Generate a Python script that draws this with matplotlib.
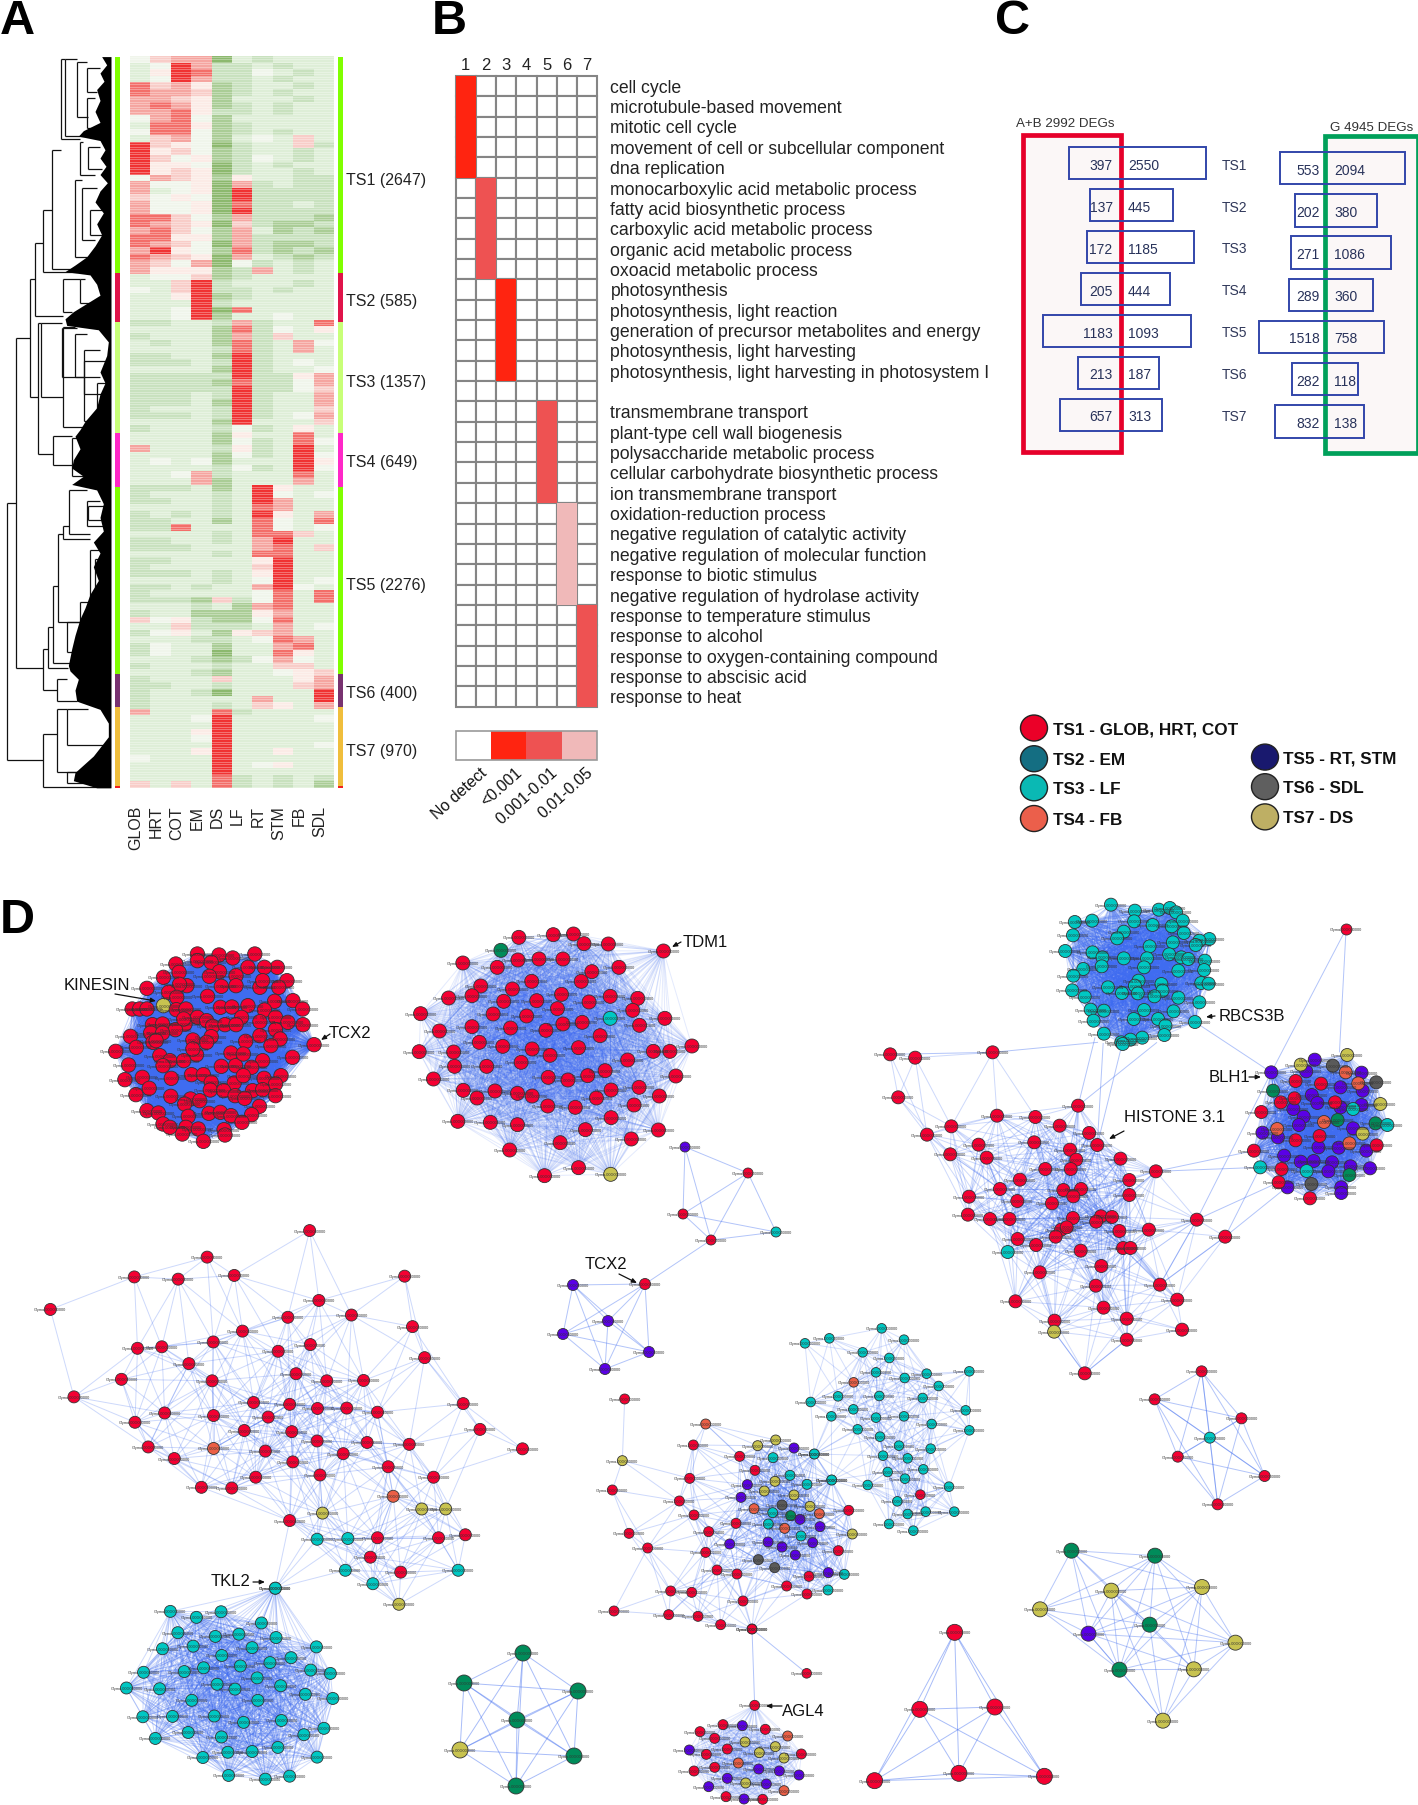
"""Multi panel soybean tissue specific expression figure (heatmap, GO grid, DEG bars, networks)."""
from itertools import combinations

import matplotlib.pyplot as plt
from matplotlib.collections import LineCollection
from matplotlib.colors import ListedColormap
from matplotlib.patches import Ellipse, Rectangle

plt.rcParams["font.family"] = ["Liberation Sans", "DejaVu Sans"]

WIDTH, HEIGHT = 1418, 1806

# panel A
TISSUES = ["GLOB", "HRT", "COT", "EM", "DS", "LF", "RT", "STM", "FB", "SDL"]
CLUSTER_LABELS = ["TS1 (2647)", "TS2 (585)", "TS3 (1357)", "TS4 (649)", "TS5 (2276)", "TS6 (400)", "TS7 (970)"]
CLUSTER_EDGES = [105, 500, 588, 792, 890, 1230, 1290, 1435, 1438]
CLUSTER_BAR_COLORS = ["#80ff00", "#e0144a", "#c8ff78", "#ff28c8", "#80ff00", "#783270", "#f0be3c", "#f02020"]
CLUSTER_LABEL_Y = [328, 547, 696, 841, 1066, 1263, 1369]
HEAT_COLORS = ["#8cb96e", "#aacd96", "#c8e1be", "#deeed7", "#f0f5eb", "#fbebe6", "#f8cdc8", "#f5a5a0", "#f36e69", "#f03232"]

# one string per band, one digit per tissue: 0 green .. 4 white .. 9 red
HEAT_TS1 = [
    "4677032333", "3497223233", "3598224323", "3497223233", "8675123323", "8776123233", "7765133323",
    "7875123233", "7785223233", "4784133333", "3885123333", "4884123233", "3674134363", "9654023362",
    "9564123323", "9645124323", "9554023233", "9565023323", "4765153322", "7445072322", "7345092222",
    "6454092222", "7445082232", "7445092222", "8864172221", "8765062112", "7864173121", "8855172222",
    "8764072112", "7954182121", "8765073212", "7647042323", "7555127323",
]
HEAT_TS2 = ["3446123333", "3369233323", "4369223233", "3359123333", "3339233333", "3349083333", "3349133433"]
HEAT_TS3 = [
    "2233272338", "3333182435", "2333172633", "3233182374", "3333282373", "2233192333", "2223292343",
    "3333192334", "2222292257", "2222182247", "2222292246", "2223292337", "2223192337", "2333292336",
    "2223292347", "3333193336", "2333242353",
]
HEAT_TS4 = ["3333153383", "3333142384", "7333252393", "3333142394", "3434133395", "3333242394", "3347233383", "3337133373"]
HEAT_TS5 = [
    "2223139533", "2333239434", "2233239733", "3333238733", "2323239537", "2233138438", "2283338434",
    "3333238863", "2233237933", "2223337836", "3333238833", "2233335933", "2333336933", "2223235933",
    "3333234934", "2232337943", "2333334838", "2221624838", "3332317833", "2331115733", "6452114833",
    "3362223734", "2453156733", "3332234873", "2433133783", "2433033853", "3332124743", "2333233663",
    "3332133456",
]
HEAT_TS6 = ["2333633357", "2233233367", "2332033339", "2333337339", "2333236537"]
HEAT_TS7 = [
    "7333823333", "3334933334", "3333933333", "3335933333", "3334933333", "3333933334",
    "3335933533", "4333933333", "3333934533", "3333933333", "3333823232", "6363823231",
]

# dendrogram brackets: x of the stem, top y, bottom y, x the top arm runs to, x the bottom arm runs to
DENDRO_BRACKETS = [
    (20, 918, 1388, 47, 130), (47, 618, 1220, 90, 130), (130, 1340, 1437, 170, 330), (170, 1295, 1410, 200, 260),
    (200, 1295, 1360, 265, 325), (200, 1410, 1430, 240, 325), (90, 510, 725, 105, 115), (105, 445, 578, 130, 190),
    (130, 385, 497, 155, 230), (155, 275, 492, 183, 230), (183, 110, 255, 195, 240), (195, 110, 250, 232, 300),
    (232, 115, 215, 262, 265), (262, 125, 170, 300, 290), (240, 260, 320, 250, 285), (225, 330, 470, 245, 270),
    (245, 345, 440, 290, 285), (190, 510, 570, 240, 215), (240, 510, 555, 255, 290), (115, 590, 830, 122, 160),
    (122, 590, 725, 185, 190), (185, 600, 690, 232, 252), (190, 598, 780, 225, 255), (252, 640, 770, 300, 290),
    (225, 610, 690, 260, 300), (160, 797, 850, 215, 215), (215, 800, 870, 240, 280), (130, 1185, 1260, 145, 170),
    (145, 1145, 1220, 158, 205), (158, 1070, 1210, 175, 210), (175, 975, 1135, 190, 240), (190, 960, 985, 208, 270),
    (208, 895, 975, 260, 270), (260, 915, 960, 300, 310), (240, 1100, 1165, 270, 235), (270, 1005, 1095, 300, 285),
    (170, 1240, 1280, 200, 230), (262, 180, 235, 285, 300), (265, 270, 310, 300, 305), (270, 385, 430, 305, 310),
    (252, 660, 720, 320, 305), (290, 700, 760, 320, 310), (265, 925, 950, 320, 310), (285, 1020, 1085, 320, 300),
    (200, 1135, 1190, 260, 255),
]
DENDRO_MASS = [
    (105, 305), (120, 320), (135, 300), (150, 312), (165, 290), (185, 300), (205, 285), (225, 300), (240, 250),
    (250, 235), (258, 300), (275, 315), (290, 300), (305, 318), (320, 300), (335, 322), (350, 300), (370, 285),
    (390, 310), (410, 290), (430, 305), (450, 285), (470, 260), (485, 225), (497, 195), (503, 270), (520, 290),
    (540, 300), (555, 260), (570, 220), (583, 195), (595, 200), (603, 295), (625, 325), (650, 320), (680, 300),
    (700, 315), (720, 300), (745, 290), (770, 255), (785, 240), (797, 225), (820, 240), (840, 220), (855, 215),
    (870, 250), (885, 215), (895, 290), (920, 310), (945, 300), (970, 310), (990, 280), (1010, 300), (1035, 280),
    (1060, 295), (1085, 270), (1110, 255), (1130, 240), (1160, 225), (1185, 215), (1215, 205), (1225, 210),
    (1240, 235), (1260, 225), (1280, 230), (1295, 300), (1320, 325), (1345, 325), (1380, 280), (1410, 225),
    (1425, 220), (1438, 290),
]

# panel B
GO_TERMS = [
    "cell cycle", "microtubule-based movement", "mitotic cell cycle", "movement of cell or subcellular component",
    "dna replication", "monocarboxylic acid metabolic process", "fatty acid biosynthetic process",
    "carboxylic acid metabolic process", "organic acid metabolic process", "oxoacid metabolic process",
    "photosynthesis", "photosynthesis, light reaction", "generation of precursor metabolites and energy",
    "photosynthesis, light harvesting", "photosynthesis, light harvesting in photosystem I", "",
    "transmembrane transport", "plant-type cell wall biogenesis", "polysaccharide metabolic process",
    "cellular carbohydrate biosynthetic process", "ion transmembrane transport", "oxidation-reduction process",
    "negative regulation of catalytic activity", "negative regulation of molecular function",
    "response to biotic stimulus", "negative regulation of hydrolase activity", "response to temperature stimulus",
    "response to alcohol", "response to oxygen-containing compound", "response to abscisic acid", "response to heat",
]
# (first row, column, p-value class) for five consecutive rows each
GO_BLOCKS = [(0, 0, 1), (5, 1, 2), (10, 2, 1), (16, 4, 2), (21, 5, 3), (26, 6, 2)]
P_LABELS = ["No detect", "<0.001", "0.001-0.01", "0.01-0.05"]
P_COLORS = ["#ffffff", "#ff2410", "#ee5252", "#f0b9b9"]

# panel C
TS_NAMES = ["TS1", "TS2", "TS3", "TS4", "TS5", "TS6", "TS7"]
AB_DOWN = [397, 137, 172, 205, 1183, 213, 657]
AB_UP = [2550, 445, 1185, 444, 1093, 187, 313]
G_DOWN = [553, 202, 271, 289, 1518, 282, 832]
G_UP = [2094, 380, 1086, 360, 758, 118, 138]
# drawn lengths of the boxes, the figure does not scale them linearly
AB_LEFT_LEN = [150, 87, 98, 114, 228, 125, 177]
AB_RIGHT_LEN = [261, 162, 225, 151, 214, 118, 129]
G_LEFT_LEN = [147, 104, 116, 120, 211, 111, 164]
G_RIGHT_LEN = [228, 144, 185, 132, 165, 87, 104]
LEGEND_LEFT = ["TS1 - GLOB, HRT, COT", "TS2 - EM", "TS3 - LF", "TS4 - FB"]
LEGEND_RIGHT = ["TS5 - RT, STM", "TS6 - SDL", "TS7 - DS"]
LEGEND_LEFT_COLORS = ["#eb0028", "#146e82", "#0ab9b4", "#eb5f4b"]
LEGEND_RIGHT_COLORS = ["#19196e", "#5f5f5f", "#beaf64"]

KINDS = {"r": "#f50032", "t": "#00c8c3", "g": "#008c5a", "p": "#5a00e6", "y": "#c8c350", "o": "#eb5f46", "k": "#5a5a5a"}

NET_KINESIN = [
    (430, 225), (477, 228), (507, 237), (555, 225), (430, 245), (460, 250), (383, 255), (604, 265), (576, 265),
    (540, 265), (478, 278), (456, 292), (390, 280), (356, 295), (514, 290), (625, 305), (407, 320), (391, 316),
    (320, 328), (482, 322), (514, 320), (566, 325), (572, 305), (607, 325), (367, 340), (452, 352), (385, 355),
    (638, 365), (598, 367), (659, 390), (540, 380), (288, 390), (304, 390), (320, 390), (356, 380, "y"), (384, 392),
    (405, 390), (480, 385), (505, 384), (576, 393), (600, 415), (526, 415), (430, 415), (627, 430), (566, 428),
    (450, 425), (403, 435), (660, 437), (332, 437), (354, 435), (463, 442), (490, 437), (514, 437), (382, 452),
    (600, 452), (566, 470), (328, 462), (354, 462), (284, 472), (460, 473), (420, 483), (610, 480), (590, 500),
    (333, 490), (450, 490), (684, 497), (297, 505), (535, 487), (252, 517), (503, 522), (428, 527), (348, 530),
    (637, 535), (370, 545), (400, 545), (572, 545), (280, 558), (355, 560), (482, 562), (513, 560), (548, 565),
    (530, 525), (310, 595), (417, 587), (443, 587), (612, 590), (272, 602), (373, 598), (575, 598), (460, 610),
    (510, 612), (600, 615), (325, 628), (458, 633), (487, 635), (512, 650), (550, 635), (572, 632), (296, 647),
    (372, 652), (600, 650), (533, 658), (415, 660), (402, 675), (435, 665), (565, 682), (320, 695), (345, 702),
    (455, 703), (480, 700), (410, 712), (503, 710), (548, 707), (527, 730), (355, 735), (405, 745), (432, 750),
    (488, 752), (397, 765), (490, 768), (443, 787), (370, 745), (340, 485), (420, 510), (400, 420), (530, 590),
]
NET_TDM = [
    (1130, 175), (1205, 167), (1249, 165), (1272, 194), (1325, 195), (1445, 216), (1091, 214, "g"), (1008, 252),
    (1128, 243), (1174, 240), (1226, 240), (1083, 265), (1289, 278), (1348, 265), (1158, 307), (1266, 307),
    (1047, 321), (1116, 330), (977, 357), (1028, 350), (1097, 367), (1169, 365), (1223, 346), (1283, 369),
    (1329, 352), (1389, 358), (916, 404), (1074, 405), (1147, 411), (1214, 389), (1378, 394), (1329, 418, "t"),
    (1448, 418), (1226, 435), (1268, 430), (1393, 439), (957, 456), (1028, 443), (1112, 447), (1189, 454),
    (1307, 470), (1044, 490), (1095, 502), (913, 518), (988, 519), (1159, 510), (1198, 529), (1260, 506),
    (1423, 517), (1459, 517), (1507, 501), (1367, 543), (990, 562), (1060, 562), (1135, 550), (944, 600),
    (1194, 595), (1237, 603), (1280, 590), (1318, 575), (1472, 591), (1009, 634), (1039, 657), (1078, 636),
    (1127, 643), (1159, 651), (1331, 633), (1392, 625), (1436, 651), (1299, 657), (1381, 678), (1193, 681),
    (1253, 685), (997, 727), (1068, 730), (1127, 737), (1331, 716), (1275, 752), (1434, 753), (1375, 780),
    (1220, 791), (1110, 813), (1186, 890), (1260, 866), (1330, 886, "y"),
]
NET_RBCS = [
    (735, 47), (637, 99), (684, 95), (632, 139), (611, 186), (800, 65), (798, 97), (865, 62), (895, 57), (912, 70),
    (930, 95), (848, 108), (900, 112), (933, 132), (770, 128), (752, 148), (1002, 150), (975, 155), (965, 168),
    (840, 172), (903, 160), (685, 190), (712, 205), (893, 196), (926, 205), (945, 210), (990, 215), (770, 208),
    (833, 208), (660, 240), (710, 232), (825, 235), (918, 245), (988, 243), (633, 260), (980, 282), (1000, 284),
    (810, 275), (800, 290), (727, 295), (872, 285), (875, 305), (630, 304), (664, 323), (765, 312), (808, 313),
    (853, 322), (918, 326), (975, 340), (680, 362), (716, 365), (825, 363), (905, 367), (688, 395), (797, 390),
    (863, 390), (963, 399), (883, 410), (716, 434), (880, 438), (820, 446), (788, 452), (763, 460), (767, 465),
]
NET_BLH = [
    (1170, 550), (1288, 512), (1265, 547), (1415, 551), (1358, 595), (1280, 618), (1295, 642), (1230, 660),
    (1358, 655), (1415, 648), (1258, 683), (1245, 708), (1392, 718), (1146, 731), (1188, 745), (1298, 775),
    (1353, 776), (1428, 785), (1205, 800), (1250, 818), (1285, 816), (1335, 820), (1385, 832), (1325, 847),
    (1438, 838), (1214, 895), (1360, 895), (1360, 912), (1418, 605), (1250, 527, "y"), (1376, 498, "y"),
    (1466, 645, "y"), (1418, 734, "y"), (1337, 530, "k"), (1455, 580, "k"), (1279, 885, "k"), (1372, 550, "o"),
    (1406, 583, "o"), (1313, 699, "o"), (1186, 720, "o"), (1382, 763, "o"), (1175, 605, "g"), (1350, 693, "g"),
    (1453, 703, "g"), (1382, 858, "g"), (1485, 708, "t"), (1392, 660, "t"), (1266, 846, "t"), (1140, 835, "t"),
    (1236, 576, "r"), (1305, 584, "r"), (1233, 628, "r"), (1196, 640, "r"), (1343, 640, "r"), (1143, 669, "r"),
    (1301, 741, "r"), (1236, 754, "r"), (1456, 769, "r"), (1123, 785, "r"), (1198, 840, "r"), (1190, 880, "r"),
    (1275, 928, "r"),
]
NET_HISTONE = [
    (136, 496), (204, 506), (414, 490), (158, 625), (302, 712), (236, 737), (299, 796), (376, 767), (398, 806),
    (426, 680), (530, 684), (596, 710), (646, 650), (676, 732), (698, 768), (527, 760), (624, 782), (641, 812),
    (761, 809), (557, 840), (626, 840), (857, 847), (488, 872), (785, 873), (434, 900), (606, 903), (654, 900),
    (633, 922), (785, 918), (350, 923), (481, 936), (575, 943), (347, 977), (407, 990), (460, 990), (632, 987),
    (708, 982), (738, 984), (695, 998), (968, 992), (838, 1022), (758, 1026), (600, 1022), (615, 1015), (585, 1043),
    (1045, 1043), (482, 1050), (532, 1068), (768, 1077), (788, 1077), (653, 1085), (455, 1089, "t"), (709, 1131),
    (542, 1150), (694, 1190), (868, 1187), (915, 1232), (476, 1237), (715, 1256), (778, 1289), (582, 1295),
    (928, 1322), (581, 1328, "y"), (778, 1352), (664, 1453),
]
NET_REDS = [
    (867, 31), (580, 102), (376, 155), (499, 161), (656, 151), (1133, 153), (141, 242), (893, 218), (806, 263),
    (984, 257), (1155, 288), (679, 300), (597, 329), (385, 346), (453, 342), (529, 387), (779, 354), (869, 336),
    (1189, 371), (829, 414), (340, 429), (594, 433), (915, 433), (1018, 432), (207, 476), (461, 519), (598, 526),
    (710, 491), (811, 496), (889, 507), (971, 506), (1057, 517), (1297, 494), (751, 530), (378, 544), (684, 566),
    (817, 569), (1344, 563), (415, 610), (598, 614, "o"), (743, 621), (888, 594), (1028, 598), (1146, 603),
    (1463, 615), (488, 641), (961, 628), (820, 650), (1087, 663), (716, 691), (896, 685), (1214, 691), (564, 718),
    (649, 720), (1101, 742, "o"), (1181, 776, "y"), (1248, 776, "y"), (903, 787, "y"), (811, 807), (888, 857, "t"),
    (974, 855, "t"), (1057, 853), (1228, 853), (1303, 845), (1037, 905), (967, 940, "t"), (1122, 945),
    (1283, 940, "t"), (1044, 976, "t"), (771, 988, "t"), (1117, 1031, "y"),
]
NET_TKL = [
    (771, 988), (477, 1050), (550, 1066), (619, 1051), (732, 1081), (498, 1107), (603, 1117), (669, 1111), (773, 1120),
    (886, 1145), (455, 1150), (541, 1143), (706, 1147), (621, 1168), (815, 1174), (673, 1196), (756, 1187), (516, 1211),
    (570, 1201), (402, 1213), (870, 1207), (925, 1216), (720, 1228), (608, 1245), (658, 1258), (786, 1249), (354, 1255),
    (447, 1257), (855, 1272), (932, 1283), (537, 1288), (722, 1288), (400, 1332), (483, 1331), (600, 1330), (682, 1347),
    (788, 1342), (907, 1363), (527, 1374), (851, 1380), (620, 1386), (435, 1390), (778, 1414), (638, 1427), (706, 1425),
    (568, 1441), (888, 1440), (640, 1489), (743, 1499), (811, 1491),
]
NET_LEAF = [
    (965, 88), (808, 118), (735, 133), (1032, 122), (908, 160), (988, 177), (948, 220), (1034, 237), (1100, 224),
    (1228, 217), (881, 250, "o"), (1136, 261), (834, 292), (958, 291), (1088, 297), (752, 309), (880, 331), (1217, 334),
    (814, 352), (948, 356), (1032, 352), (1115, 375), (893, 391), (1228, 394), (960, 413), (1017, 440), (1112, 449),
    (969, 470), (1043, 478), (1090, 511), (983, 519), (1035, 539), (923, 558), (1167, 563), (1081, 587, "r"), (1012, 607),
    (1097, 638), (1043, 645), (1183, 638), (987, 675), (1060, 695), (815, 543), (763, 465),
]
NET_MIXED = [
    (194, 300, "r"), (400, 438, "r"), (187, 485, "y"), (437, 375, "o"), (647, 423, "y"), (593, 440, "y"), (702, 447, "p"),
    (539, 472, "r"), (639, 476, "t"), (763, 465, "t"), (585, 514, "r"), (690, 529, "t"), (645, 547, "y"), (562, 557, "p"),
    (389, 538, "r"), (741, 556, "t"), (815, 543, "t"), (157, 573, "r"), (613, 576, "y"), (702, 588, "y"), (543, 595, "p"),
    (358, 606, "r"), (666, 618, "k"), (750, 622, "y"), (582, 629, "o"), (638, 641, "t"), (778, 644, "o"), (866, 634, "r"),
    (692, 650, "g"), (402, 648, "r"), (528, 673, "r"), (625, 675, "t"), (720, 661, "p"), (674, 688, "o"), (780, 683, "p"),
    (446, 698, "r"), (207, 703, "r"), (877, 705, "y"), (723, 711, "t"), (624, 729, "p"), (758, 731, "p"), (509, 735, "p"),
    (666, 744, "p"), (263, 747, "r"), (437, 760, "r"), (835, 755, "r"), (706, 768, "p"), (595, 782, "k"), (644, 806, "k"),
    (471, 813, "r"), (531, 825, "r"), (805, 821, "p"), (853, 826, "t"), (747, 832, "r"), (680, 861, "r"), (804, 873, "t"),
    (332, 876, "r"), (395, 880, "r"), (741, 885, "r"), (549, 906, "r"), (162, 936, "r"), (326, 947, "r"), (414, 952, "r"),
    (482, 977, "r"), (576, 990, "r"),
]
NET_AGL = [
    (584, 1219, "r"), (489, 1277, "r"), (547, 1280, "p"), (420, 1298, "r"), (616, 1291, "r"), (683, 1311, "o"),
    (464, 1318, "r"), (555, 1329, "y"), (646, 1343, "y"), (388, 1353, "p"), (502, 1350, "r"), (598, 1361, "y"),
    (439, 1366, "r"), (724, 1365, "r"), (672, 1377, "y"), (535, 1392, "o"), (464, 1405, "r"), (402, 1416, "r"),
    (596, 1410, "p"), (658, 1416, "p"), (717, 1428, "p"), (502, 1438, "p"), (557, 1452, "y"), (619, 1455, "p"),
    (446, 1463, "p"), (672, 1475, "o"), (498, 1493, "r"), (552, 1500, "p"), (608, 1501, "r"),
]
NET_FAR = [(740, 1123), (576, 990)]
NET_CLIQUE_G = [(523, 1654, "g"), (464, 1684, "g"), (517, 1721, "g"), (460, 1751, "y"), (516, 1787, "g"), (578, 1692, "g"), (574, 1757, "g")]
NET_CLIQUE_R = [(266, 880), (168, 1111), (379, 1104), (278, 1303), (41, 1325), (518, 1312)]
NET_CLIQUE_Y = [
    (594, 635, "g"), (829, 650, "g"), (706, 755, "y"), (961, 744, "y"), (506, 811, "y"), (814, 857, "g"),
    (642, 884, "p"), (1055, 911, "y"), (729, 992, "g"), (938, 991, "y"), (851, 1145, "y"),
]
NET_SMALL = [(960, 97), (828, 181), (1072, 238), (983, 296, "t"), (893, 353), (1137, 411), (1005, 496)]
NET_TCX = [(573, 1286, "p"), (645, 1285, "r"), (608, 1322, "p"), (563, 1335, "p"), (649, 1353, "p"), (605, 1370, "p")]
NET_CHAIN = [(685, 1148, "p"), (748, 1174, "r"), (683, 1215, "r"), (711, 1241, "r"), (776, 1233, "t")]
NET_CHAIN_LINKS = [(0, 1), (0, 2), (0, 3), (1, 2), (1, 3), (2, 3), (1, 4), (3, 4), (2, 4)]
NET_LONE = [(1373, 120)]

# crop frames the node lists were read in: origin x, origin y, scale x, scale y
FRAME_TOP_LEFT = (0, 880, 2.178, 3)
FRAME_TOP_RIGHT = (840, 890, 2.713, 3)
FRAME_BOTTOM_LEFT = (0, 1220, 2.8, 2.676)
FRAME_BOTTOM_MID = (560, 1300, 3, 3)
FRAME_BOTTOM_RIGHT = (860, 1340, 2.81, 3)
FRAME_PIXELS = (0, 0, 1, 1)

# network, frame, default kind, node radius px, max edge length px, edge alpha
NETWORKS = [
    (NET_KINESIN, FRAME_TOP_LEFT, "r", 7.2, 999, 0.3),
    (NET_TDM, FRAME_TOP_LEFT, "r", 7, 170, 0.14),
    (NET_RBCS, FRAME_TOP_RIGHT, "t", 6.5, 999, 0.24),
    (NET_BLH, FRAME_TOP_RIGHT, "p", 6.5, 999, 0.26),
    (NET_HISTONE, FRAME_TOP_RIGHT, "r", 6.5, 92, 0.26),
    (NET_REDS, FRAME_BOTTOM_LEFT, "r", 6, 95, 0.26),
    (NET_TKL, FRAME_BOTTOM_LEFT, "t", 6, 135, 0.25),
    (NET_LEAF, FRAME_BOTTOM_MID, "t", 4.8, 72, 0.22),
    (NET_MIXED, FRAME_BOTTOM_MID, "r", 5, 72, 0.26),
    (NET_AGL, FRAME_BOTTOM_MID, "r", 5, 999, 0.15),
    (NET_FAR, FRAME_BOTTOM_MID, "r", 4.8, 999, 0.4),
    (NET_CLIQUE_G, FRAME_PIXELS, "g", 8, 999, 0.45),
    (NET_CLIQUE_R, FRAME_BOTTOM_RIGHT, "r", 8, 999, 0.45),
    (NET_CLIQUE_Y, FRAME_BOTTOM_RIGHT, "y", 7.5, 150, 0.38),
    (NET_SMALL, FRAME_BOTTOM_RIGHT, "r", 5.5, 999, 0.4),
    (NET_TCX, FRAME_PIXELS, "p", 5.5, 999, 0.4),
    (NET_CHAIN, FRAME_PIXELS, "r", 5, 0, 0),
    (NET_LONE, FRAME_TOP_RIGHT, "r", 5.5, 0, 0),
]

# single long edges between the modules, both ends in the top right crop frame
HISTONE_LINKS = [
    ((646, 650), (692, 445)), ((646, 650), (860, 460)), ((698, 768), (714, 462)), ((698, 768), (762, 480)),
    ((414, 490), (700, 460)), ((136, 496), (414, 490)), ((857, 847), (1140, 835)), ((857, 847), (1123, 785)),
    ((968, 992), (1170, 550)), ((968, 992), (1190, 880)), ((1045, 1043), (1200, 905)), ((1045, 1043), (1140, 835)),
    ((963, 399), (1170, 550)), ((1373, 120), (1170, 550)), ((1373, 120), (1355, 490)), ((664, 1453), (581, 1328)),
    ((664, 1453), (778, 1352)), ((868, 1187), (968, 992)), ((868, 1187), (1045, 1043)), ((582, 1295), (968, 992)),
]
# (label, text x, text y, arrow start, arrow end) in picture pixels
GENE_CALLOUTS = [
    ("KINESIN", 64, 986, (115, 995), (156, 1002)),
    ("TCX2", 329, 1034, (330, 1035), (321, 1041)),
    ("TDM1", 683, 943, (681, 943), (672, 948)),
    ("RBCS3B", 1219, 1017, (1215, 1017), (1206, 1018)),
    ("BLH1", 1209, 1078, (1249, 1078), (1261, 1078)),
    ("HISTONE 3.1", 1124, 1118, (1124, 1132), (1109, 1140)),
    ("TCX2", 585, 1265, (619, 1275), (637, 1284)),
    ("TKL2", 211, 1582, (253, 1583), (265, 1583)),
    ("AGL4", 782, 1712, (782, 1707), (766, 1707)),
]
NODE_LABEL = "Glyma.00G000000"


def to_px(point, frame):
    """Convert a crop coordinate into picture pixels."""
    return frame[0] + point[0] / frame[2], frame[1] + point[1] / frame[3]


def draw_heatmap(ax):
    """Panel A: dendrogram, colour bars and heatmap."""
    zx, zy = 3, 1.823
    rows = HEAT_TS1 + HEAT_TS2 + HEAT_TS3 + HEAT_TS4 + HEAT_TS5 + HEAT_TS6 + HEAT_TS7
    grid = [[int(c) for c in row] for row in rows]
    left, right, top, bottom = 390 / zx, 1002 / zx, 105 / zy, 1438 / zy
    ax.imshow(grid, cmap=ListedColormap(HEAT_COLORS), vmin=0, vmax=9, aspect="auto", interpolation="nearest",
              extent=(left, right, bottom, top), zorder=1)
    # fine horizontal streaks of the thousands of gene rows
    y = top
    while y < bottom:
        ax.plot([left, right], [y, y], color="white", lw=0.7, alpha=0.32, zorder=1.5)
        y += 2.5

    for i, color in enumerate(CLUSTER_BAR_COLORS):
        y0, y1 = CLUSTER_EDGES[i] / zy, CLUSTER_EDGES[i + 1] / zy
        ax.add_patch(Rectangle((115, y0), 5, y1 - y0, fc=color, lw=0))
        ax.add_patch(Rectangle((337.5, y0), 5.5, y1 - y0, fc=color, lw=0))
    for label, y_label in zip(CLUSTER_LABELS, CLUSTER_LABEL_Y):
        ax.text(346, y_label / zy + 1, label, fontsize=11.5, va="center", color="#222222")
    for i, tissue in enumerate(TISSUES):
        ax.text((390 + 61.2 * (i + 0.28)) / zx, 806, tissue, rotation=90, ha="center", va="top", fontsize=11.5, color="#222222")

    segments = []
    for x, y0, y1, x_top, x_bot in DENDRO_BRACKETS:
        segments += [[(x / zx, y0 / zy), (x / zx, y1 / zy)],
                     [(x / zx, y0 / zy), (x_top / zx, y0 / zy)],
                     [(x / zx, y1 / zy), (x_bot / zx, y1 / zy)]]
    ax.add_collection(LineCollection(segments, colors="#111111", linewidths=0.9, zorder=2))
    ax.fill_betweenx([p[0] / zy for p in DENDRO_MASS], [p[1] / zx for p in DENDRO_MASS], 111, color="black", lw=0, zorder=2)


def draw_go_grid(ax):
    """Panel B: GO enrichment grid and its key."""
    left, top, cell_w, cell_h = 455.6, 76.8, 20.23, 20.35
    filled = {}
    for first_row, col, p_class in GO_BLOCKS:
        for row in range(first_row, first_row + 5):
            filled[(row, col)] = p_class
    for row in range(len(GO_TERMS)):
        for col in range(7):
            color = P_COLORS[filled.get((row, col), 0)]
            ax.add_patch(Rectangle((left + col * cell_w, top + row * cell_h), cell_w, cell_h, fc=color, ec="#858585", lw=1.5))
    # filled cells sit on top of the neighbouring grid lines
    for (row, col), p_class in filled.items():
        ax.add_patch(Rectangle((left + col * cell_w, top + row * cell_h), cell_w, cell_h, fc=P_COLORS[p_class], lw=0))
    for col in range(7):
        ax.text(left + (col + 0.5) * cell_w, 65.5, str(col + 1), ha="center", va="center", fontsize=12, color="#222222")
    for row, term in enumerate(GO_TERMS):
        ax.text(610.5, top + (row + 0.5) * cell_h + 1.3, term, va="center", fontsize=12.67, color="#222222")

    key_w = (597.2 - left) / 4
    for i, (label, color) in enumerate(zip(P_LABELS, P_COLORS)):
        ax.add_patch(Rectangle((left + i * key_w, 732), key_w, 29, fc=color, lw=0))
        ax.text(left + (i + 0.68) * key_w, 765, label, rotation=42, rotation_mode="anchor", ha="right", va="top",
                fontsize=11.5, color="#111111")
    ax.add_patch(Rectangle((left, 732), 4 * key_w, 29, fc="none", ec="#999999", lw=1.2))


def draw_deg_boxes(ax):
    """Panel C: DEG counts per cluster and the cluster colour key."""
    zx, zy = 3, 1.823
    ox = 990
    ax.add_patch(Rectangle((ox + 100 / zx, 248 / zy), 293 / zx, 578 / zy, fc="#fbf7f7", ec="#e6002a", lw=3.4, zorder=1))
    ax.add_patch(Rectangle((ox + 1005 / zx, 250 / zy), 278 / zx, 578 / zy, fc="#fbf7f7", ec="#00a05a", lw=3.4, zorder=1))
    ax.text(ox + 78 / zx, 226 / zy, "A+B 2992 DEGs", va="center", fontsize=9.6, color="#333333")
    ax.text(ox + 1020 / zx, 233 / zy, "G 4945 DEGs", va="center", fontsize=9.6, color="#333333")
    rows = [
        (388, 270, 76.5, AB_DOWN, AB_UP, AB_LEFT_LEN, AB_RIGHT_LEN, 368, 414, 32),
        (1018, 279, 76.9, G_DOWN, G_UP, G_LEFT_LEN, G_RIGHT_LEN, 988, 1033, 32),
    ]
    for mid, y_first, step, down, up, left_len, right_len, x_down, x_up, text_off in rows:
        for i in range(7):
            y0 = y_first + i * step
            ax.add_patch(Rectangle((ox + (mid - left_len[i]) / zx, y0 / zy), (left_len[i] + right_len[i]) / zx, 59 / zy,
                                   fc="none", ec="#3246aa", lw=1.4, zorder=2))
            ax.text(ox + x_down / zx, (y0 + text_off) / zy, str(down[i]), ha="right", va="center", fontsize=10, color="#28325a", zorder=3)
            ax.text(ox + x_up / zx, (y0 + text_off) / zy, str(up[i]), ha="left", va="center", fontsize=10, color="#28325a", zorder=3)
    for i, name in enumerate(TS_NAMES):
        ax.text(ox + 694 / zx, (302 + i * 76.4) / zy, name, va="center", fontsize=10, color="#30385a")

    for labels, colors, cx, tx, ys in [
        (LEGEND_LEFT, LEGEND_LEFT_COLORS, 132, 190, [1329, 1385, 1438, 1494]),
        (LEGEND_RIGHT, LEGEND_RIGHT_COLORS, 825, 878, [1382, 1436, 1491]),
    ]:
        for label, color, y in zip(labels, colors, ys):
            ax.add_patch(Ellipse((ox + cx / zx, y / zy), 27, 26, fc=color, ec="#222222", lw=1))
            ax.text(ox + tx / zx, y / zy + 0.5, label, va="center", fontsize=12.35, color="#111111", fontweight="bold")


def draw_network(ax, nodes, frame, kind, radius, max_len, alpha):
    """Draw one module: edges between nodes closer than max_len, then the nodes and tiny gene ids."""
    points = [to_px(n, frame) for n in nodes]
    segments = [(a, b) for a, b in combinations(points, 2) if (a[0] - b[0]) ** 2 + (a[1] - b[1]) ** 2 < max_len ** 2]
    if segments:
        ax.add_collection(LineCollection(segments, colors="#3f6cf0", linewidths=0.7, alpha=alpha, zorder=3))
    colors = [KINDS[n[2] if len(n) > 2 else kind] for n in nodes]
    size = (2 * radius * 0.72) ** 2
    ax.scatter([p[0] for p in points], [p[1] for p in points], s=size, c=colors, edgecolors="#333333", linewidths=0.6, zorder=4)
    for p in points:
        ax.text(p[0], p[1], NODE_LABEL, fontsize=2.8, ha="center", va="center", color="#333333", zorder=5)


def draw_networks(ax):
    """Panel D: coexpression modules and gene callouts."""
    for nodes, frame, kind, radius, max_len, alpha in NETWORKS:
        draw_network(ax, nodes, frame, kind, radius, max_len, alpha)
    chain = [to_px(n, FRAME_PIXELS) for n in NET_CHAIN]
    links = [(chain[a], chain[b]) for a, b in NET_CHAIN_LINKS]
    links += [(to_px(a, FRAME_TOP_RIGHT), to_px(b, FRAME_TOP_RIGHT)) for a, b in HISTONE_LINKS]
    links.append((chain[3], to_px(NET_TCX[1], FRAME_PIXELS)))
    links.append((to_px(NET_MIXED[-1], FRAME_BOTTOM_MID), to_px(NET_AGL[0], FRAME_BOTTOM_MID)))
    ax.add_collection(LineCollection(links, colors="#3f6cf0", linewidths=0.7, alpha=0.4, zorder=3))

    for label, x, y, start, end in GENE_CALLOUTS:
        ax.text(x, y, label, fontsize=12, va="center", color="#111111", zorder=6)
        ax.annotate("", xy=end, xytext=start, zorder=6,
                    arrowprops={"arrowstyle": "-|>,head_width=0.13,head_length=0.3", "color": "#111111", "lw": 0.9, "shrinkA": 0, "shrinkB": 0})


def main():
    fig = plt.figure(figsize=(WIDTH / 100, HEIGHT / 100), dpi=100)
    ax = fig.add_axes([0, 0, 1, 1])
    draw_heatmap(ax)
    draw_go_grid(ax)
    draw_deg_boxes(ax)
    draw_networks(ax)

    for letter, x, y in [("A", 0, 21), ("B", 432, 21), ("C", 995, 21), ("D", 0, 921)]:
        ax.text(x, y, letter, fontsize=35, fontweight="bold", va="center", color="black")

    ax.set_xlim(0, WIDTH)
    ax.set_ylim(HEIGHT, 0)
    ax.axis("off")
    fig.savefig("out.png", dpi=100)


if __name__ == "__main__":
    main()
